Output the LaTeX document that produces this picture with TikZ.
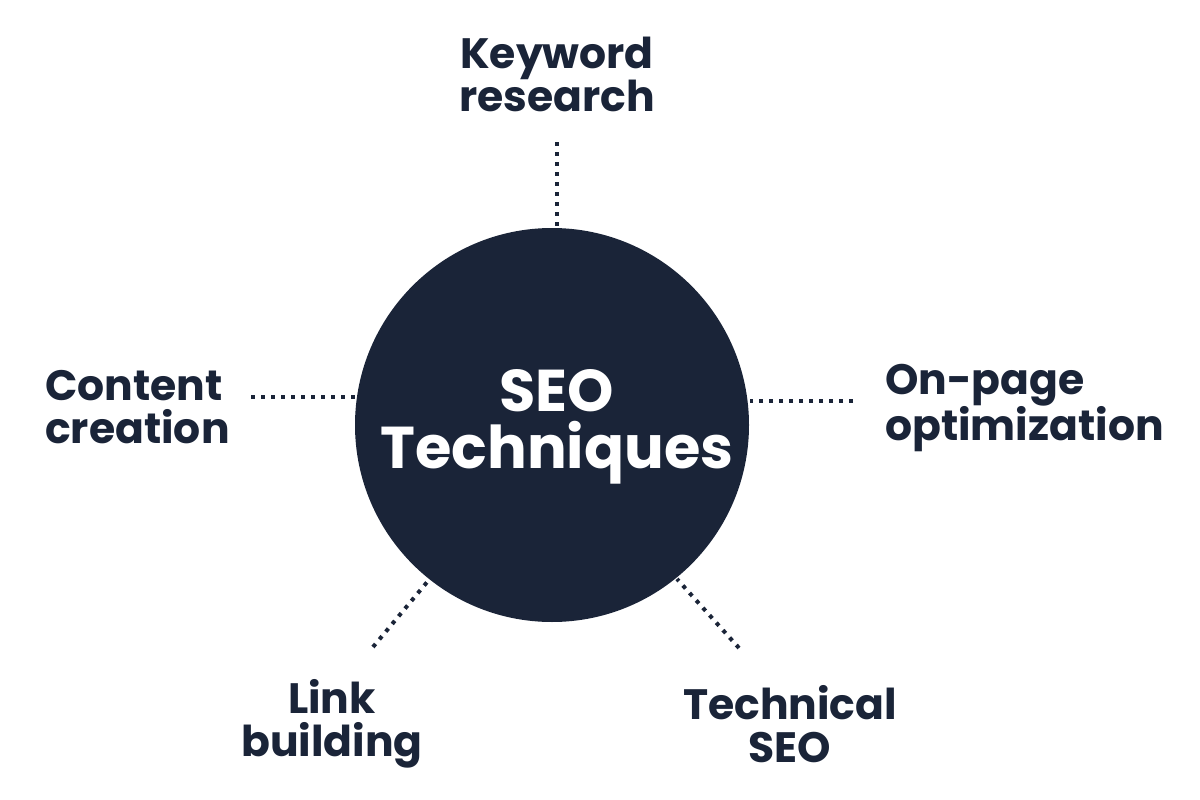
\documentclass[tikz,border=0pt]{standalone}
\usepackage{fontspec}
\setmainfont{Poppins}[BoldFont={* Bold}]
\definecolor{navy}{RGB}{26,36,56}
\begin{document}
\begin{tikzpicture}[x=1pt,y=-1pt,
  lbl/.style={text=navy,font=\bfseries\fontsize{42.5}{43}\selectfont,inner sep=0pt},
  dots/.style={draw=navy,line width=4pt,dash pattern=on 4pt off 6pt}]
\useasboundingbox (0,0) rectangle (1200,800);
\fill[white] (0,0) rectangle (1200,800);
\node[circle,fill=navy,minimum size=394pt,inner sep=0pt] (c) at (552,425) {};
\node[text=white,font=\bfseries\fontsize{59}{57}\selectfont,align=center,inner sep=0pt] (t) at (557,427) {SEO\\Techniques};
\node[lbl,align=center] (kw) at (557,74) {Keyword\\research};
\node[lbl,align=left,anchor=west] (cc) at (45,407) {Content\\creation};
\node[lbl,align=left,anchor=west] (op) at (885,408) {On-page\\optimization};
\node[lbl,align=center] (lb) at (332,724) {Link\\building};
\node[lbl,align=center] (ts) at (790,724) {Technical\\SEO};
\coordinate (kwe) at (557,142);
\coordinate (cce) at (251,397);
\coordinate (ope) at (853,401);
\coordinate (lbe) at (373,647);
\coordinate (tse) at (739,648);
\draw[dots] (kwe) -- (557,226);
\draw[dots] (cce) -- (356,397);
\draw[dots] (ope) -- (750,401);
\draw[dots] (lbe) -- (428,581);
\draw[dots] (tse) -- (677,579);
\end{tikzpicture}
\end{document}
